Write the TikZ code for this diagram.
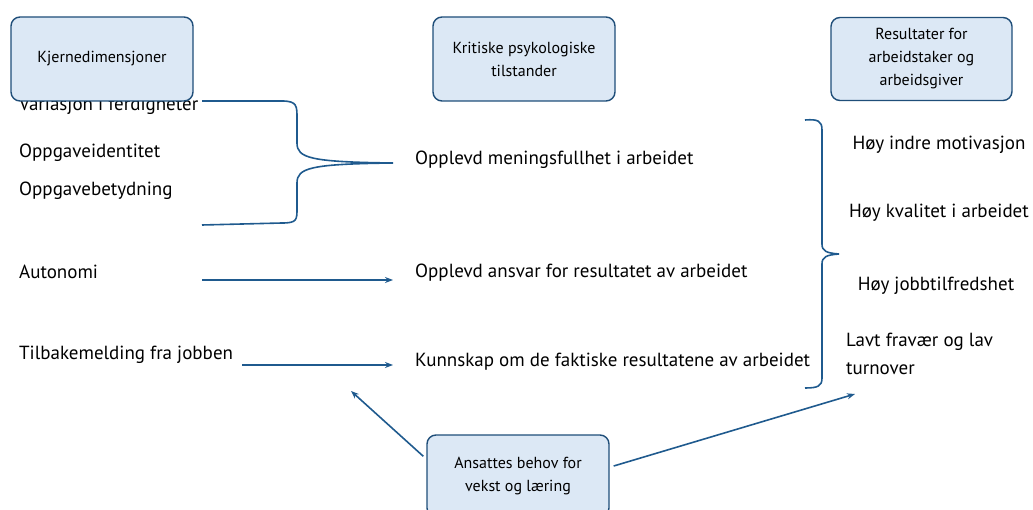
\documentclass[tikz,border=0pt]{standalone}
\usepackage{fontspec}
\setmainfont{PT Sans}
\usetikzlibrary{arrows.meta}
\definecolor{bordercol}{HTML}{1F4E79}
\definecolor{boxfill}{HTML}{DCE8F5}
\definecolor{linecol}{HTML}{1F5A8E}
\tikzset{
  hdr/.style={draw=bordercol, fill=boxfill, line width=1.4pt, rounded corners=9pt, align=center, font=\fontsize{16}{23}\selectfont, inner sep=0pt},
  item/.style={anchor=west, inner sep=0pt, font=\fontsize{19}{28}\selectfont},
  conn/.style={draw=linecol, line width=1.6pt, -{Stealth[length=8pt,width=6pt]}},
  brace/.style={draw=linecol, line width=1.6pt}
}
\begin{document}
\begin{tikzpicture}[x=1pt,y=-1pt]
\useasboundingbox (0,0) rectangle (1033,510);
\clip (0,0) rectangle (1033,510);
% left items
\node[item] (var) at (19,106) {Variasjon i ferdigheter};
\node[item] (oid) at (19,153) {Oppgaveidentitet};
\node[item] (obt) at (19,191) {Oppgavebetydning};
\node[item] (aut) at (19,272) {Autonomi};
\node[item] (tbm) at (19,355) {Tilbakemelding fra jobben};
% middle items
\node[item] (mening) at (415,160) {Opplevd meningsfullhet i arbeidet};
\node[item] (ansvar) at (415,273) {Opplevd ansvar for resultatet av arbeidet};
\node[item] (kunn) at (415,362) {Kunnskap om de faktiske resultatene av arbeidet};
% right items
\node[item, anchor=center] (mot) at (939,145) {Høy indre motivasjon};
\node[item, anchor=center] (kval) at (939,213) {Høy kvalitet i arbeidet};
\node[item, anchor=center] (tilf) at (936,286) {Høy jobbtilfredshet};
\node[item, align=left, anchor=north west] (frav) at (846,333) {Lavt fravær og lav\\turnover};
% header boxes
\node[hdr, minimum width=182pt, minimum height=84pt] (kjerne) at (102,59) {Kjernedimensjoner};
\node[hdr, minimum width=182pt, minimum height=84pt] (krit) at (524,59) {Kritiske psykologiske\\tilstander};
\node[hdr, minimum width=181pt, minimum height=83pt] (res) at (921.5,59) {Resultater for\\arbeidstaker og\\arbeidsgiver};
\node[hdr, minimum width=182pt, minimum height=82pt] (behov) at (518,476) {Ansattes behov for\\vekst og læring};
% left brace
\coordinate (lbtop) at (202,101);
\coordinate (lbbot) at (202,225);
\coordinate (lbtip) at (393,163);
\path[brace] (lbtop) -- (282,101) .. controls (297,101) and (297,106) .. (297,118)
  -- (297,143) .. controls (297,158) and (310,162) .. (lbtip)
  .. controls (310,164) and (297,168) .. (297,183)
  -- (297,208) .. controls (297,220) and (297,223) .. (282,223) -- (lbbot);
% right brace
\coordinate (rbtop) at (805,120);
\coordinate (rbbot) at (805,388);
\coordinate (rbtip) at (839,254);
\path[brace] (rbtop) .. controls (818,119) and (822,121) .. (822,130)
  -- (822,244) .. controls (822,251) and (826,253) .. (rbtip)
  .. controls (826,255) and (822,257) .. (822,264)
  -- (822,378) .. controls (822,386) and (818,388) .. (rbbot);
% arrows
\coordinate (autend) at (202,280);
\coordinate (tbmend) at (242,365);
\draw[conn] (autend) -- (393,280);
\draw[conn] (tbmend) -- (393,365);
\coordinate (lt) at (351,391);
\coordinate (rt) at (855,394);
\draw[conn] (behov.north west) ++(-3,22) coordinate (bl) (bl) -- (lt);
\draw[conn] (behov.east) ++(4,-10) coordinate (br) (br) -- (rt);
\end{tikzpicture}
\end{document}
